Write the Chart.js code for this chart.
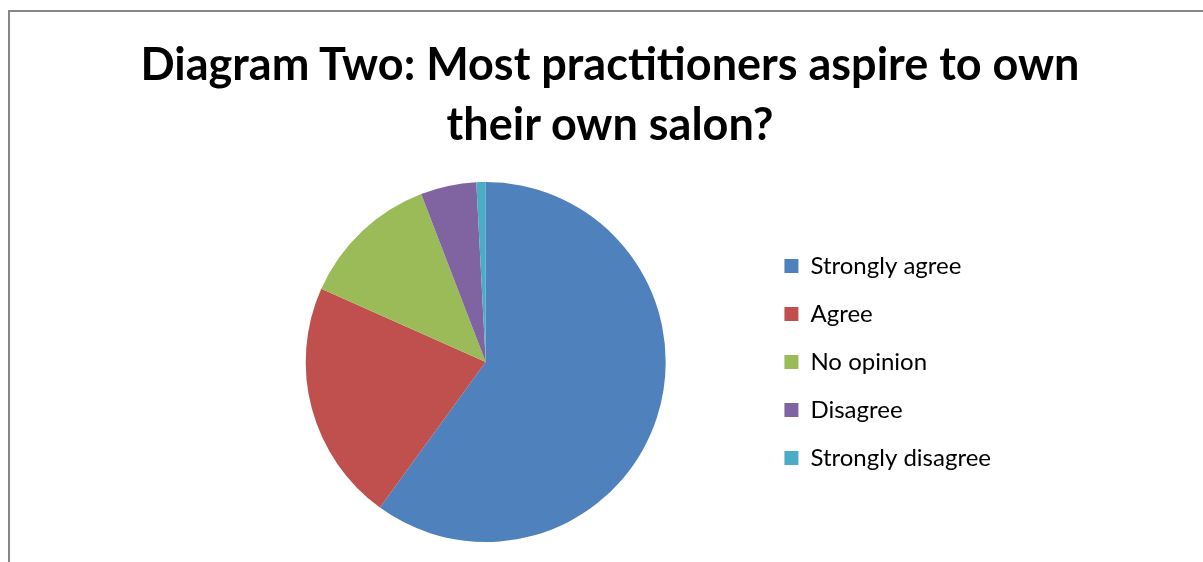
<!DOCTYPE html>
<html>
<head>
<meta charset="utf-8">
<title>Diagram Two</title>
<script src="https://cdn.jsdelivr.net/npm/chart.js@4"></script>
<style>
    html, body { margin: 0; padding: 0; background: #fff; }
    .frame {
        position: absolute;
        left: 8px; top: 10px;
        width: 1300px; height: 700px;
        border-left: 2px solid #878787;
        border-top: 2px solid #878787;
    }
    .wrap { position: absolute; left: 0; top: 0; width: 1203px; height: 562px; }
    .chart-title {
        position: absolute;
        left: 0; top: 33px;
        width: 1220px;
        margin: 0;
        text-align: center;
        font-family: 'Lato', sans-serif;
        font-weight: bold;
        font-size: 45px;
        line-height: 60px;
        color: #000;
        white-space: nowrap;
    }
</style>
</head>
<body>
<div class="frame"></div>
<div class="wrap"><canvas id="pieChart"></canvas></div>
<div class="chart-title" id="chartTitle"></div>
<script>
// ===== DATA =====
const categories = ['Strongly agree', 'Agree', 'No opinion', 'Disagree', 'Strongly disagree'];
const responses = [72, 26, 15, 6, 1];
const sliceColors = ['#4F81BD', '#C0504D', '#9BBB59', '#8064A2', '#4BACC6'];
const titleLines = ['Diagram Two: Most practitioners aspire to own', 'their own salon?'];

// title is plain text above the canvas (chart.js squeezes it when padding is large)
const titleEl = document.getElementById('chartTitle');
titleLines.forEach(line => {
    const d = document.createElement('div');
    d.textContent = line;
    titleEl.appendChild(d);
});

const pieCtx = document.getElementById('pieChart');
new Chart(pieCtx, {
    type: 'pie',
    data: {
        labels: categories,
        datasets: [{
            data: responses,
            backgroundColor: sliceColors,
            borderWidth: 0
        }]
    },
    options: {
        responsive: true,
        maintainAspectRatio: false,
        animation: false,
        layout: {
            padding: { left: 211, right: 202, top: 182, bottom: 20 }
        },
        plugins: {
            legend: {
                position: 'right',
                fullSize: false,
                labels: {
                    color: '#000',
                    boxWidth: 14,
                    boxHeight: 14,
                    padding: 24,
                    font: { family: 'Lato', size: 24, lineHeight: 1.0 }
                }
            },
            tooltip: { enabled: false }
        }
    }
});
</script>
</body>
</html>
